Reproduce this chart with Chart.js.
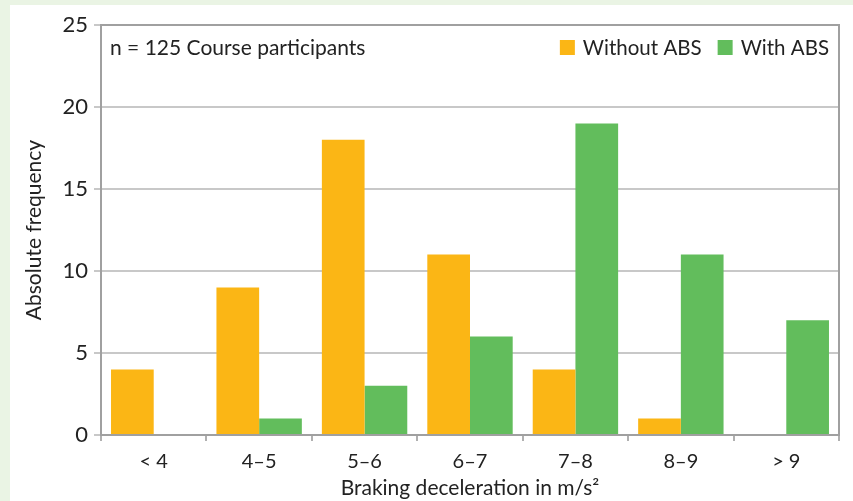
<!DOCTYPE html>
<html>
<head>
<meta charset="utf-8">
<script src="https://cdn.jsdelivr.net/npm/chart.js@4.4.0/dist/chart.umd.min.js"></script>
<style>
  html, body { margin: 0; padding: 0; background: #eaf4e4; }
  #wrap { position: absolute; left: 10px; top: 5px; width: 843px; height: 496px; background: #fff; }
</style>
</head>
<body>
<div id="wrap"><canvas id="c" width="843" height="496"></canvas></div>
<script>
const categories = ["< 4", "4\u20135", "5\u20136", "6\u20137", "7\u20138", "8\u20139", "> 9"];
const withoutAbs = [4, 9, 18, 11, 4, 1, 0];
const withAbs = [0, 1, 3, 6, 19, 11, 7];
const yTicks = [0, 5, 10, 15, 20, 25];

const FONT = "Lato";
const TXT = "#222";

// note + legend inside the plot, plus top/right frame
const overlay = {
  id: "overlay",
  afterDraw(chart) {
    const ctx = chart.ctx;
    const a = chart.chartArea;
    ctx.save();
    ctx.strokeStyle = "#a0a0a0";
    ctx.lineWidth = 2;
    ctx.beginPath();
    ctx.moveTo(a.left, a.top);
    ctx.lineTo(a.right, a.top);
    ctx.lineTo(a.right, a.bottom);
    ctx.stroke();

    ctx.fillStyle = TXT;
    ctx.font = "21px " + FONT;
    ctx.textBaseline = "middle";
    ctx.textAlign = "left";
    ctx.fillText("n = 125 Course participants", a.left + 9, a.top + 23);

    ctx.font = "20.5px " + FONT;
    const items = [["Without ABS", "#fbb615"], ["With ABS", "#62bd5c"]];
    let x = a.right - 10;
    ctx.textAlign = "right";
    for (let i = items.length - 1; i >= 0; i--) {
      const w = ctx.measureText(items[i][0]).width;
      ctx.fillStyle = TXT;
      ctx.fillText(items[i][0], x, a.top + 23);
      x -= w + 8;
      ctx.fillStyle = items[i][1];
      ctx.fillRect(x - 15, a.top + 15, 15, 15);
      x -= 15 + 16;
    }
    ctx.restore();
  }
};

new Chart(document.getElementById("c"), {
  type: "bar",
  data: {
    labels: categories,
    datasets: [
      { label: "Without ABS", data: withoutAbs, backgroundColor: "#fbb615" },
      { label: "With ABS", data: withAbs, backgroundColor: "#62bd5c" }
    ]
  },
  options: {
    responsive: false,
    animation: false,
    categoryPercentage: 0.81,
    barPercentage: 1,
    layout: { padding: { left: 12, right: 14, top: 20, bottom: 0 } },
    plugins: { legend: { display: false }, tooltip: { enabled: false } },
    scales: {
      x: {
        grid: { drawOnChartArea: false, drawTicks: true, tickLength: 6, color: "#b0b0b0", lineWidth: 2, offset: true },
        border: { color: "#a0a0a0", width: 2 },
        ticks: { color: TXT, font: { family: FONT, size: 20 }, padding: 9 },
        title: { display: true, text: "Braking deceleration in m/s\u00b2", color: TXT, font: { family: FONT, size: 21 }, padding: { top: 1, bottom: 0 } },
        afterFit(s) { s.height = 66; }
      },
      y: {
        min: 0,
        max: 25,
        afterBuildTicks(s) { s.ticks = yTicks.map(v => ({ value: v })); },
        grid: { color: "#c8c8c8", lineWidth: 2, tickLength: 7 },
        border: { color: "#a0a0a0", width: 2 },
        ticks: { color: TXT, font: { family: FONT, size: 22 }, padding: 6 },
        title: { display: true, text: "Absolute frequency", color: TXT, font: { family: FONT, size: 21 }, padding: { top: 0, bottom: 4 } },
        afterFit(s) { s.width = 79; }
      }
    }
  },
  plugins: [overlay]
});
</script>
</body>
</html>
